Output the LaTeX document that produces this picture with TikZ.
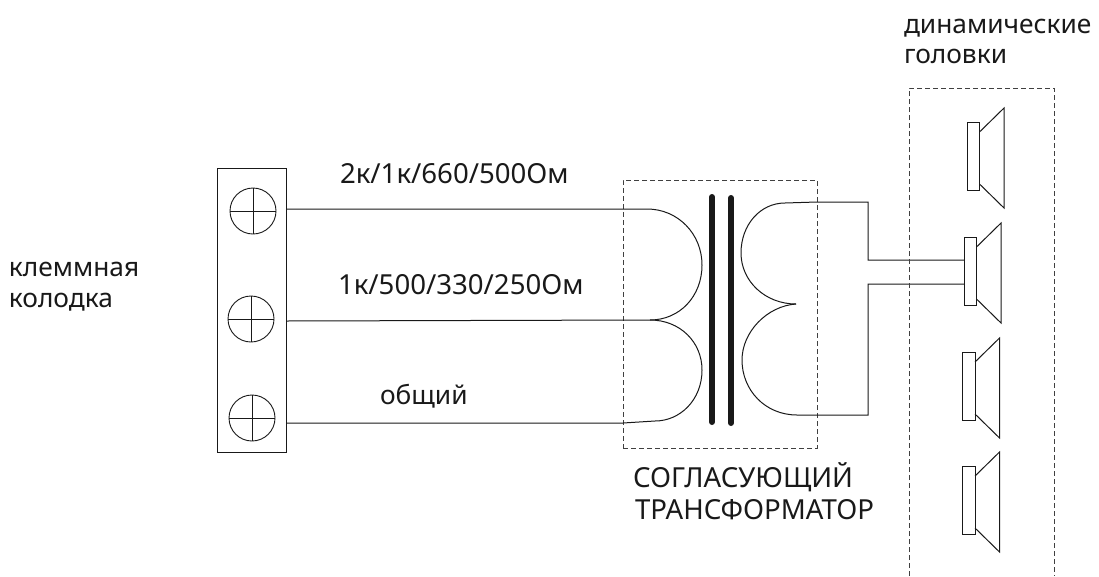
\documentclass[tikz,border=0pt]{standalone}
\usepackage{fontspec}
\setmainfont{Noto Sans}
\usetikzlibrary{calc}
\tikzset{
  lbl/.style={anchor=base west,inner sep=0pt,outer sep=0pt,font=\fontsize{27.6}{32}\selectfont,text=black!90},
  lbl low/.style={lbl,font=\fontsize{26.3}{32}\selectfont},
  thin line/.style={draw=black!90,line width=1pt},
  dash box/.style={draw=black!75,line width=1pt,dash pattern=on 5pt off 3pt},
  core/.style={draw=black!90,line width=6pt,line cap=round},
  term/.style={circle,draw=black!90,line width=0.9pt,minimum size=46pt,inner sep=0pt,
    path picture={\draw[black!90,line width=1pt] (path picture bounding box.north) -- (path picture bounding box.south)
      (path picture bounding box.west) -- (path picture bounding box.east);}},
}
% speaker: #1 name, #2 rect left x, #3 rect top y
\newcommand{\speakerdraw}[3]{%
  \node[thin line,rectangle,inner sep=0pt,outer sep=0pt,minimum width=12.5pt,minimum height=68pt,anchor=north west] (#1) at (#2,#3) {};
  \draw[thin line,line join=miter] ($(#1.north east)+(0,10)$) -- ++(24.5,-24) -- ++(0,100) -- ($(#1.south east)+(0,-6)$);
}
\begin{document}
\begin{tikzpicture}[x=1pt,y=-1pt]
\useasboundingbox (0,0) rectangle (1099,576);
% terminal block
\node[thin line,rectangle,inner sep=0pt,outer sep=0pt,minimum width=69pt,minimum height=284pt,anchor=north west] (block) at (217,168) {};
\node[term] (t1) at (253,211) {};
\node[term] (t2) at (251,319) {};
\node[term] (t3) at (252,418) {};
% transformer
\node[dash box,rectangle,inner sep=0pt,outer sep=0pt,minimum width=194pt,minimum height=268pt,anchor=north west] (tbox) at (623,180) {};
\coordinate (c1a) at (712,197); \coordinate (c1b) at (712,422);
\coordinate (c2a) at (731,198); \coordinate (c2b) at (731,423);
\draw[core] (c1a) -- (c1b);
\draw[core] (c2a) -- (c2b);
% primary
\coordinate (p1) at (block.east |- 0,209);
\coordinate (p2) at (block.east |- 0,321);
\coordinate (p3) at (block.east |- 0,423);
\coordinate (pm) at (650,320);
\draw[thin line] (p1) -- (647,209) .. controls (678,209) and (702,234) .. (702,265)
  .. controls (702,296) and (680,320) .. (pm);
\draw[thin line] (p2) -- (pm) .. controls (680,320) and (702,342) .. (702,370)
  .. controls (702,400) and (680,421) .. (655,421) -- (623,423) -- (p3);
% speakers
\speakerdraw{s1}{967}{122}
\speakerdraw{s2}{964}{237}
\speakerdraw{s3}{962.5}{352}
\speakerdraw{s4}{962.5}{466}
% secondary
\coordinate (sm) at (796,304);
\coordinate (w1) at (868,202);
\coordinate (w2) at (868,415);
\draw[thin line] (sm) .. controls (765,304) and (741,281) .. (741,253)
  .. controls (741,225) and (760,203) .. (785,203) -- (817,202) -- (w1)
  -- (w1 |- 0,260) -- (s2.west |- 0,260);
\draw[thin line] (sm) .. controls (767,306) and (742,332) .. (742,360)
  .. controls (742,390) and (765,415) .. (797,415) -- (w2)
  -- (w2 |- 0,284) -- (s2.west |- 0,284);
% speaker frame (open at the bottom)
\coordinate (f1) at (909,576); \coordinate (f2) at (909,88);
\coordinate (f3) at (1054,88); \coordinate (f4) at (1054,576);
\draw[dash box] (f1) -- (f2) -- (f3) -- (f4);
% labels
\node[lbl low] (l1) at (904,33) {динамические};
\node[lbl low] (l2) at (904,63) {головки};
\node[lbl] (l3) at (340,183) {2к/1к/660/500Ом};
\node[lbl] (l4) at (338,294) {1к/500/330/250Ом};
\node[lbl low] (l5) at (380,404) {общий};
\node[lbl low] (l6) at (9,276) {клеммная};
\node[lbl low] (l7) at (9,307) {колодка};
\node[lbl] (l8) at (633,487) {СОГЛАСУЮЩИЙ};
\node[lbl] (l9) at (635,519) {ТРАНСФОРМАТОР};
\end{tikzpicture}
\end{document}
